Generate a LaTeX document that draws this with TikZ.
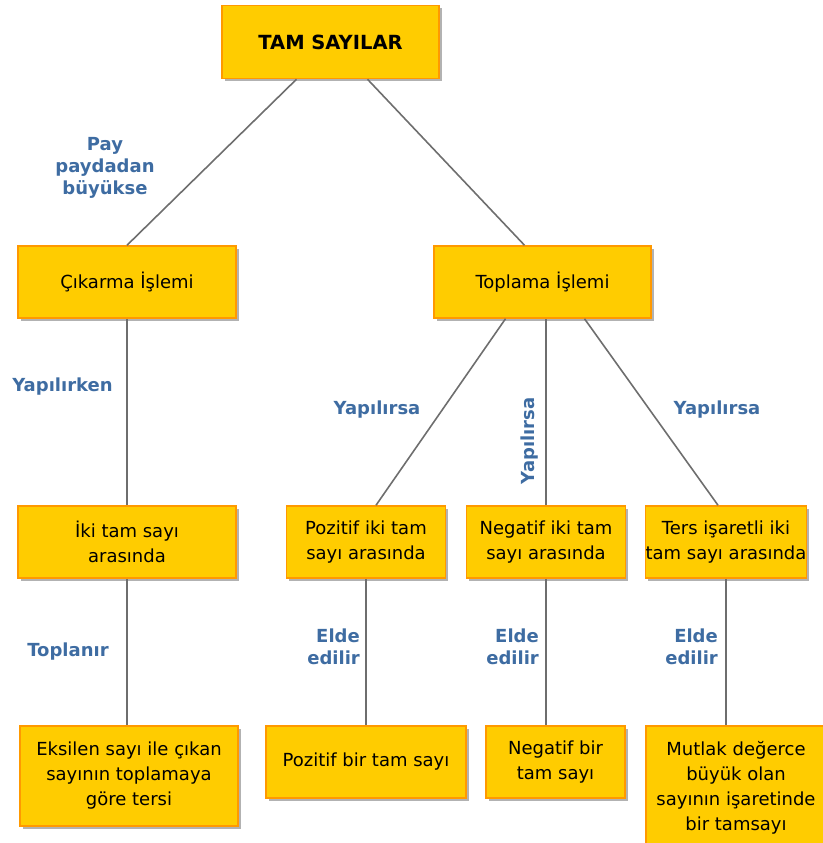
\documentclass[tikz,border=0pt]{standalone}
\usepackage{fontspec}
\setmainfont{DejaVu Sans}
\usetikzlibrary{shadows}
\definecolor{boxfill}{RGB}{255,204,0}
\definecolor{boxline}{RGB}{255,153,0}
\definecolor{lblblue}{RGB}{62,108,162}
\definecolor{linegray}{RGB}{110,110,110}

\begin{document}
\begin{tikzpicture}[x=1pt,y=-1pt,
    ybox/.style={draw=boxline,line width=1.5pt,fill=boxfill,inner sep=0pt,align=center,
        font=\fontsize{18}{25}\selectfont,
        drop shadow={shadow xshift=2.5pt,shadow yshift=-2.5pt,fill=black,opacity=0.3}},
    blabel/.style={text=lblblue,font=\bfseries\fontsize{18}{22}\selectfont,inner sep=0pt,align=center},
    link/.style={draw=linegray,line width=1.6pt}]
                    \useasboundingbox (0,0) rectangle (822,843);

                    % Top
                    \node[ybox,minimum width=217,minimum height=73,font=\bfseries\fontsize{19.5}{25}\selectfont] (tam) at (330.5,42) {TAM SAYILAR};

                    % Operations
                    \node[ybox,minimum width=218,minimum height=72] (cikarma) at (127,282) {Çıkarma İşlemi};
                    \node[ybox,minimum width=217,minimum height=72] (toplama) at (542.5,282) {Toplama İşlemi};

                    % Cases
                    \node[ybox,minimum width=218,minimum height=72] (iki) at (127,542) {İki tam sayı\\arasında};
                    \node[ybox,minimum width=159,minimum height=72] (pozitif) at (366,542) {Pozitif iki tam\\sayı arasında};
                    \node[ybox,minimum width=159,minimum height=72] (negatif) at (546,542) {Negatif iki tam\\sayı arasında};
                    \node[ybox,minimum width=159,minimum height=72] (ters) at (726,542) {Ters işaretli iki\\tam sayı arasında};

                    % Results
                    \node[ybox,minimum width=218,minimum height=100] (eksilen) at (129,776) {Eksilen sayı ile çıkan\\sayının toplamaya\\göre tersi};
                    \node[ybox,minimum width=200,minimum height=72] (pozbir) at (366,762) {Pozitif bir tam sayı};
                    \node[ybox,minimum width=139,minimum height=72] (negbir) at (555.5,762) {Negatif bir\\tam sayı};
                    \node[ybox,minimum width=180,minimum height=124] (mutlak) at (736,788) {Mutlak değerce\\büyük olan\\sayının işaretinde\\bir tamsayı};

                    % Labels
                    \node[blabel] (pay) at (105,168) {Pay\\paydadan\\büyükse};
                    \node[blabel] (yapirken) at (62.5,387) {Yapılırken};
                    \node[blabel] (toplanir) at (68,652) {Toplanır};
                    \node[blabel] (yapsol) at (377,410) {Yapılırsa};
                    \node[blabel,rotate=90] (yaporta) at (530,441) {Yapılırsa};
                    \node[blabel] (yapsag) at (717,410) {Yapılırsa};
                    \node[blabel,anchor=east,align=right] (elde1) at (360,647) {Elde\\edilir};
                    \node[blabel,anchor=east,align=right] (elde2) at (539,647) {Elde\\edilir};
                    \node[blabel,anchor=east,align=right] (elde3) at (718,647) {Elde\\edilir};

                    % Lines
                    \draw[link] ([xshift=-34]tam.south) -- (cikarma.north);
                    \draw[link] ([xshift=37]tam.south) -- ([xshift=-18]toplama.north);
                    \draw[link] (cikarma.south) -- (iki.north);
                    \draw[link] ([xshift=-37]toplama.south) -- ([xshift=10]pozitif.north);
                    \draw[link] (negatif.north) -- (negatif.north |- toplama.south);
                    \draw[link] ([xshift=42]toplama.south) -- ([xshift=-8]ters.north);
                    \draw[link] (iki.south) -- (iki.south |- eksilen.north);
                    \draw[link] (pozitif.south) -- (pozbir.north);
                    \draw[link] (negatif.south) -- (negatif.south |- negbir.north);
                    \draw[link] (ters.south) -- (ters.south |- mutlak.north);
                \end{tikzpicture}
\end{document}
